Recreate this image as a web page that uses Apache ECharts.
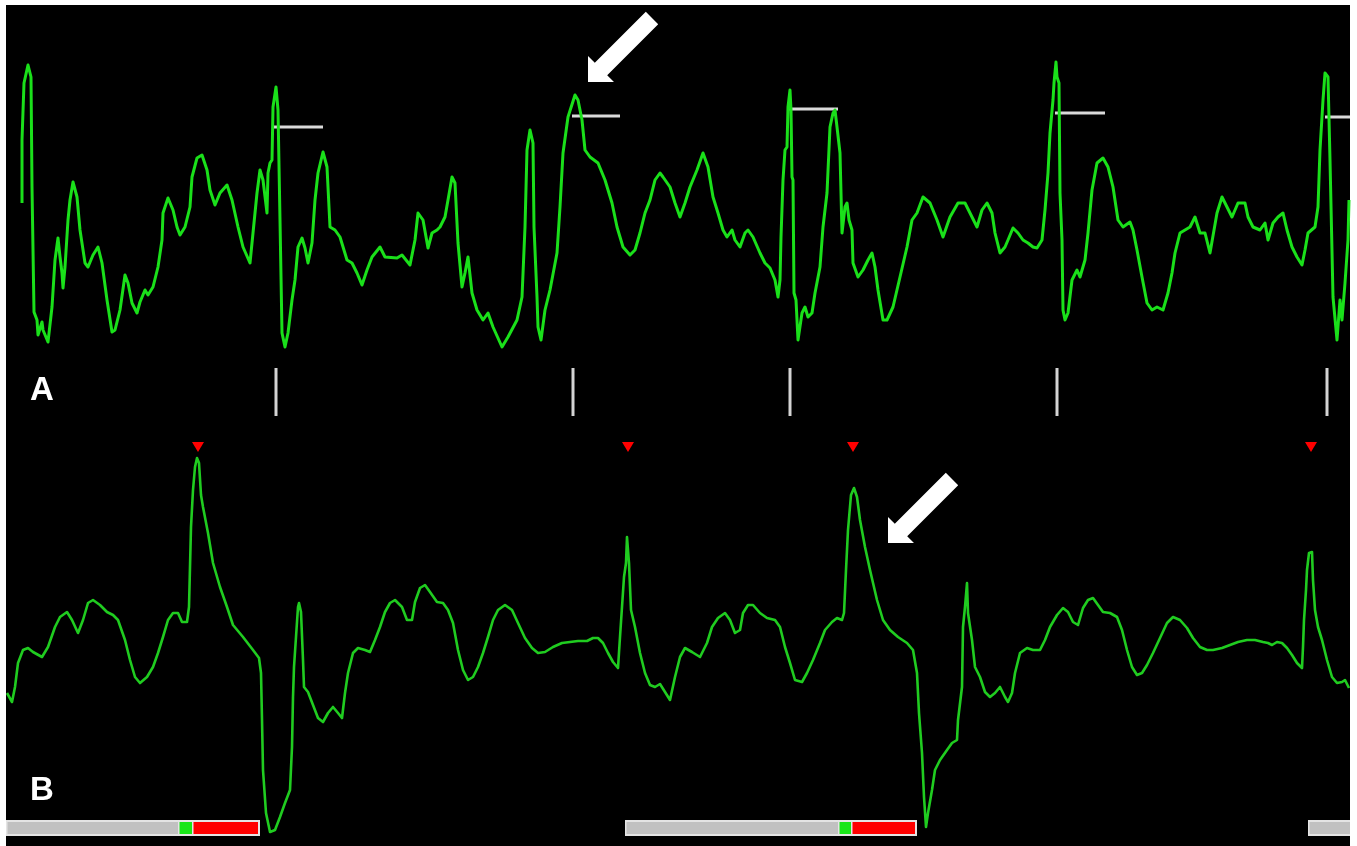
<!DOCTYPE html>
<html>
<head>
<meta charset="utf-8">
<script src="https://cdn.jsdelivr.net/npm/echarts@6/dist/echarts.min.js"></script>
<style>
  html, body { margin: 0; padding: 0; background: #ffffff; }
  #chart { width: 1357px; height: 846px; }
</style>
</head>
<body>
<div id="chart"></div>
<script>
// Lead A: [sample, amplitude]
const traceA = [
  [22,222],[22,285],[24,342],[28,360],[31,348],[32,238],[33,237],[34,113],[37,105],[38,90],
  [42,103],[43,95],[48,83],[52,118],[55,165],[58,187],[60,168],[62,152],[63,137],[65,158],
  [68,205],[70,225],[73,243],[77,228],[80,195],[85,162],[88,158],[93,170],[98,178],[102,162],
  [107,125],[112,93],[115,95],[120,115],[125,150],[128,142],[132,122],[137,112],[140,123],[145,135],
  [148,130],[153,138],[158,158],[162,185],[163,212],[168,227],[173,215],[177,198],[180,190],[185,198],
  [190,218],[192,248],[197,267],[202,270],[207,255],[210,235],[215,220],[220,232],[227,240],[232,225],
  [238,198],[243,178],[250,162],[253,192],[257,232],[260,255],[263,245],[267,212],[268,252],[270,262],
  [272,265],[273,318],[276,338],[278,315],[280,205],[282,92],[285,78],[288,92],[292,125],[295,145],
  [298,178],[302,187],[305,177],[308,162],[312,182],[315,225],[318,252],[323,273],[327,258],[330,198],
  [335,195],[340,188],[347,165],[352,162],[357,152],[362,140],[367,155],[372,168],[380,178],[385,168],
  [397,167],[402,170],[410,160],[415,185],[418,212],[423,205],[428,177],[432,192],[437,195],[440,198],
  [445,208],[448,225],[452,248],[455,242],[458,182],[462,138],[465,152],[468,168],[472,132],[477,115],
  [483,105],[488,112],[493,98],[502,78],[508,88],[517,105],[522,128],[525,198],[527,275],[530,295],
  [533,282],[534,198],[537,128],[538,98],[541,85],[545,115],[550,135],[557,172],[560,218],[563,272],
  [568,308],[575,330],[578,325],[582,305],[585,275],[590,268],[598,262],[605,245],[612,222],[617,198],
  [623,178],[630,170],[635,175],[640,192],[645,212],[650,225],[655,245],[660,252],[663,248],[670,238],
  [675,222],[680,208],[685,222],[690,238],[697,255],[703,272],[708,258],[713,228],[718,212],[723,195],
  [727,188],[732,195],[735,185],[740,178],[745,192],[748,195],[753,188],[760,172],[765,162],[770,157],
  [775,145],[778,128],[780,145],[781,188],[783,245],[785,275],[787,278],[788,318],[790,335],[791,315],
  [792,248],[793,245],[794,132],[796,125],[798,85],[802,112],[805,118],[808,108],[812,112],[815,132],
  [820,158],[823,198],[827,232],[830,298],[833,312],[835,315],[837,298],[840,272],[842,192],[845,218],
  [847,222],[849,205],[852,195],[853,162],[858,148],[863,155],[868,165],[872,172],[875,158],[878,135],
  [883,105],[887,105],[893,118],[900,148],[907,178],[912,205],[917,212],[923,228],[930,222],[937,205],
  [943,188],[950,208],[958,222],[965,222],[972,208],[977,198],[982,215],[987,222],[992,212],[995,192],
  [1000,172],[1005,178],[1008,185],[1013,197],[1018,192],[1023,185],[1028,182],[1033,178],[1037,177],[1042,185],
  [1045,215],[1048,252],[1050,292],[1053,325],[1054,342],[1056,363],[1057,348],[1059,342],[1060,232],[1062,185],
  [1063,115],[1065,105],[1068,112],[1072,145],[1077,155],[1080,148],[1085,165],[1088,192],[1092,235],[1097,262],
  [1103,267],[1108,258],[1113,238],[1118,205],[1123,198],[1130,203],[1133,195],[1137,175],[1142,148],[1147,122],
  [1152,115],[1157,118],[1163,115],[1168,132],[1172,152],[1175,172],[1180,192],[1185,195],[1190,198],[1195,208],
  [1200,192],[1205,192],[1210,172],[1217,212],[1222,228],[1227,218],[1232,208],[1238,222],[1245,222],[1248,208],
  [1253,198],[1260,195],[1265,202],[1268,185],[1273,202],[1278,208],[1283,212],[1287,195],[1292,178],[1297,168],
  [1302,160],[1305,175],[1308,192],[1315,198],[1318,218],[1320,275],[1323,325],[1325,352],[1328,348],[1330,265],
  [1333,128],[1337,85],[1340,125],[1342,105],[1345,142],[1348,185],[1349,225]
];

// Lead B: [sample, amplitude]
const traceB = [
  [7,150],[12,141],[15,156],[18,180],[23,193],[28,195],[33,191],[42,186],[48,196],[55,216],
  [60,226],[67,231],[72,223],[78,210],[83,223],[88,240],[93,243],[100,238],[107,231],[113,228],
  [118,223],[125,203],[130,183],[135,166],[140,160],[147,166],[153,176],[158,190],[163,206],[168,223],
  [173,230],[178,230],[182,221],[187,221],[189,236],[191,316],[193,353],[195,376],[197,385],[199,380],
  [201,348],[203,336],[208,310],[213,280],[220,256],[227,236],[233,218],[243,206],[253,193],[259,185],
  [261,170],[262,123],[263,73],[266,30],[270,11],[275,13],[280,26],[285,40],[290,53],[292,96],
  [293,146],[294,176],[296,206],[298,236],[299,240],[301,231],[303,183],[304,156],[308,151],[313,138],
  [318,125],[323,121],[328,130],[333,136],[338,130],[342,125],[345,150],[348,170],[353,190],[358,195],
  [365,193],[370,191],[375,203],[380,216],[385,231],[390,240],[395,243],[402,236],[407,223],[412,223],
  [415,241],[420,255],[425,258],[430,251],[437,241],[443,240],[448,233],[453,220],[458,193],[463,173],
  [468,163],[473,166],[478,176],[483,190],[488,206],[493,223],[498,233],[505,238],[512,233],[518,220],
  [525,205],[532,195],[538,190],[545,191],[553,196],[562,200],[570,201],[578,202],[587,202],[593,205],
  [598,205],[603,200],[608,190],[613,181],[618,175],[620,206],[622,236],[624,266],[626,280],[627,306],
  [628,306],[629,280],[631,233],[635,216],[640,190],[645,170],[650,158],[655,156],[660,159],[665,151],
  [670,143],[675,166],[680,186],[685,195],[692,191],[700,186],[707,200],[712,216],[718,225],[725,230],
  [730,223],[735,210],[740,213],[743,230],[748,238],[753,238],[760,230],[767,225],[775,223],[780,216],
  [785,196],[790,180],[795,163],[802,161],[807,170],[813,183],[820,200],[825,213],[832,221],[837,225],
  [842,223],[844,230],[846,273],[848,313],[851,348],[854,355],[857,346],[860,323],[865,296],[870,273],
  [877,243],[883,223],[890,213],[898,206],[907,200],[913,193],[917,170],[919,130],[922,90],[924,46],
  [926,16],[928,30],[932,53],[935,73],[940,83],[947,93],[952,100],[957,103],[958,123],[962,156],
  [963,216],[965,236],[967,260],[968,230],[972,203],[975,176],[980,166],[985,151],[990,146],[995,150],
  [1000,156],[1005,146],[1008,141],[1012,150],[1015,170],[1020,190],[1027,195],[1033,193],[1040,193],[1045,203],
  [1050,216],[1057,228],[1063,235],[1068,231],[1073,221],[1078,218],[1083,235],[1088,243],[1093,245],[1098,238],
  [1103,231],[1110,230],[1117,226],[1122,213],[1127,193],[1132,176],[1137,168],[1142,170],[1147,178],[1153,190],
  [1160,205],[1167,220],[1173,226],[1180,223],[1187,215],[1193,205],[1200,196],[1207,193],[1213,193],[1222,195],
  [1230,198],[1238,201],[1247,203],[1255,203],[1263,201],[1268,200],[1272,198],[1277,201],[1282,200],[1287,195],
  [1292,188],[1297,180],[1302,175],[1303,196],[1304,223],[1306,253],[1307,273],[1309,290],[1312,291],[1313,263],
  [1315,233],[1318,216],[1322,203],[1327,183],[1332,166],[1337,160],[1342,161],[1345,163],[1349,155]
];

// Lead A annotations
const levelMarksA = [[274,323,298],[572,620,309],[788,838,316],[1055,1105,312],[1325,1350,308]]; // [from, to, level]
const beatTicksA = [276,573,790,1057,1327];
const tickSpanA = [9,57];
const arrowTipsA = [[588,343]];

// Lead B annotations
const beatMarkersB = [198,628,853,1311];
const markerLevelB = 396;
const statusBarsB = [[6,260],[625,917],[1308,1350]];
const statusSegmentsB = [
  [6,178,0],[178,192,1],[192,258,2],
  [625,838,0],[838,851,1],[851,915,2],
  [1308,1350,0]
];
const statusLevelB = 15;
const arrowTipsB = [[888,300]];

const segmentColors = ['#c1c1c1', '#19e619', '#ff0000'];

// Block arrow pointing down-left, tip placed on the given point
function arrowRender(params, api) {
  const p = api.coord([api.value(0), api.value(1)]);
  const outline = [[0,0],[26,0],[19.2,-6.8],[70.2,-57.8],[57.8,-70.2],[6.8,-19.2],[0,-26]];
  return {
    type: 'polygon',
    shape: { points: outline.map(q => [p[0] + q[0], p[1] + q[1]]) },
    style: { fill: '#ffffff' }
  };
}

const chart = echarts.init(document.getElementById('chart'), null, { renderer: 'canvas' });

const hiddenX = { type: 'value', min: 6, max: 1350, show: false };
const labelStyle = { color: '#ffffff', fontSize: 33, fontWeight: 'bold', fontFamily: 'Liberation Sans, Arial, sans-serif' };

chart.setOption({
  animation: false,
  backgroundColor: '#ffffff',
  title: [
    { text: 'A', left: 25, top: 369, textStyle: labelStyle },
    { text: 'B', left: 25, top: 769, textStyle: labelStyle }
  ],
  grid: [
    { left: 6, right: 7, top: 5, height: 420, show: true, backgroundColor: '#000000', borderWidth: 0 },
    { left: 6, right: 7, top: 425, height: 421, show: true, backgroundColor: '#000000', borderWidth: 0 }
  ],
  xAxis: [
    Object.assign({ gridIndex: 0 }, hiddenX),
    Object.assign({ gridIndex: 1 }, hiddenX)
  ],
  yAxis: [
    { gridIndex: 0, type: 'value', min: 0, max: 420, show: false },
    { gridIndex: 1, type: 'value', min: -3, max: 418, show: false }
  ],
  series: [
    {
      type: 'line', xAxisIndex: 0, yAxisIndex: 0, data: traceA,
      showSymbol: false, symbol: 'none', clip: true,
      lineStyle: { color: '#1ae01a', width: 3, join: 'round' }
    },
    {
      type: 'custom', xAxisIndex: 0, yAxisIndex: 0, data: levelMarksA,
      renderItem: (params, api) => {
        const a = api.coord([api.value(0), api.value(2)]);
        const b = api.coord([api.value(1), api.value(2)]);
        return { type: 'line', shape: { x1: a[0], y1: a[1], x2: b[0], y2: b[1] }, style: { stroke: '#dadada', lineWidth: 3 } };
      }
    },
    {
      type: 'custom', xAxisIndex: 0, yAxisIndex: 0, data: beatTicksA.map(x => [x]),
      renderItem: (params, api) => {
        const a = api.coord([api.value(0), tickSpanA[1]]);
        const b = api.coord([api.value(0), tickSpanA[0]]);
        return { type: 'line', shape: { x1: a[0], y1: a[1], x2: b[0], y2: b[1] }, style: { stroke: '#d4d4d4', lineWidth: 3 } };
      }
    },
    {
      type: 'custom', xAxisIndex: 0, yAxisIndex: 0, data: arrowTipsA, renderItem: arrowRender, clip: false, z: 5
    },
    {
      type: 'line', xAxisIndex: 1, yAxisIndex: 1, data: traceB,
      showSymbol: false, symbol: 'none', clip: true,
      lineStyle: { color: '#20cc20', width: 2.6, join: 'round' }
    },
    {
      type: 'scatter', xAxisIndex: 1, yAxisIndex: 1,
      data: beatMarkersB.map(x => [x, markerLevelB]),
      symbol: 'triangle', symbolRotate: 180, symbolSize: [12, 10],
      itemStyle: { color: '#ff0000', opacity: 1 }
    },
    {
      type: 'custom', xAxisIndex: 1, yAxisIndex: 1, data: statusBarsB,
      renderItem: (params, api) => {
        const a = api.coord([api.value(0), statusLevelB]);
        const b = api.coord([api.value(1), statusLevelB]);
        const h = api.size([0, 16])[1];
        return { type: 'rect', shape: { x: a[0], y: a[1] - h / 2, width: b[0] - a[0], height: h }, style: { fill: '#e4e4e4' } };
      }
    },
    {
      type: 'custom', xAxisIndex: 1, yAxisIndex: 1, data: statusSegmentsB,
      renderItem: (params, api) => {
        const a = api.coord([api.value(0), statusLevelB]);
        const b = api.coord([api.value(1), statusLevelB]);
        const h = api.size([0, 12])[1];
        return { type: 'rect', shape: { x: a[0] + 1.5, y: a[1] - h / 2, width: b[0] - a[0] - 1.5, height: h }, style: { fill: segmentColors[api.value(2)] } };
      }
    },
    {
      type: 'custom', xAxisIndex: 1, yAxisIndex: 1, data: arrowTipsB, renderItem: arrowRender, clip: false, z: 5
    }
  ]
});
</script>
</body>
</html>
